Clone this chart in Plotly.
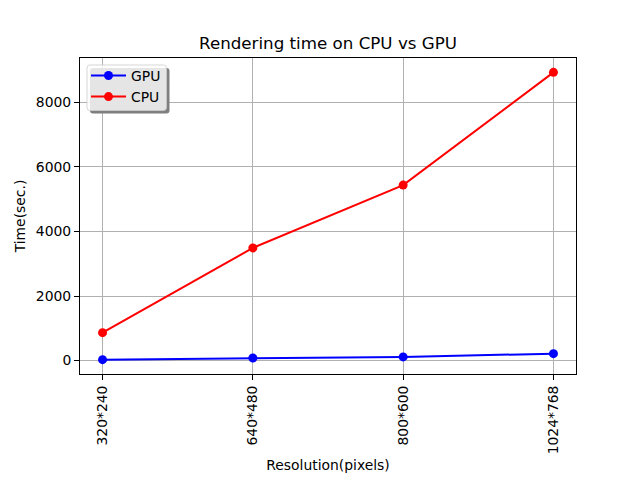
import plotly.graph_objects as go

resolutions = ["320*240", "640*480", "800*600", "1024*768"]
gpu_times = [30, 80, 115, 215]
cpu_times = [865, 3490, 5436, 8927]

L, R, T, B = 80, 64, 58, 106
W, H = 640, 480
pw, ph = W - L - R, H - T - B

def px_x(p):
    return (p - L) / pw

def px_y(p):
    return 1 - (p - T) / ph

def rounded_rect(x0, y0, x1, y1, r):
    def P(x, y):
        return f"{px_x(x):.5f},{px_y(y):.5f}"
    return (f"M {P(x0 + r, y0)} L {P(x1 - r, y0)} Q {P(x1, y0)} {P(x1, y0 + r)} "
            f"L {P(x1, y1 - r)} Q {P(x1, y1)} {P(x1 - r, y1)} "
            f"L {P(x0 + r, y1)} Q {P(x0, y1)} {P(x0, y1 - r)} "
            f"L {P(x0, y0 + r)} Q {P(x0, y0)} {P(x0 + r, y0)} Z")

fig = go.Figure()
fig.add_trace(go.Scatter(x=list(range(len(resolutions))), y=gpu_times, mode="lines+markers",
                         name="GPU", line=dict(color="#0000ff", width=2),
                         marker=dict(color="#0000ff", size=9)))
fig.add_trace(go.Scatter(x=list(range(len(resolutions))), y=cpu_times, mode="lines+markers",
                         name="CPU", line=dict(color="#ff0000", width=2),
                         marker=dict(color="#ff0000", size=9)))

font = "DejaVu Sans"
axis_common = dict(showline=True, linecolor="black", linewidth=1, mirror=True,
                   ticks="outside", ticklen=5, tickcolor="black", tickwidth=1,
                   showgrid=True, gridcolor="#b0b0b0", gridwidth=1, zeroline=False,
                   automargin=False,
                   tickfont=dict(family=font, size=13.9, color="black"))

fig.update_layout(
    width=W, height=H,
    margin=dict(l=L, r=R, t=T, b=B, autoexpand=False),
    paper_bgcolor="white", plot_bgcolor="white",
    title=dict(text="Rendering time on CPU vs GPU", x=0.5, xref="paper", xanchor="center",
               y=1 - 43 / H, yanchor="middle",
               font=dict(family=font, size=16.7, color="black")),
    xaxis=dict(axis_common, tickmode="array", tickvals=list(range(len(resolutions))),
               ticktext=resolutions, range=[-0.15, 3.15], tickangle=-90,
               title=dict(text="Resolution(pixels)", font=dict(family=font, size=13.9, color="black"), standoff=6)),
    yaxis=dict(axis_common, range=[-415, 9372], tickvals=[0, 2000, 4000, 6000, 8000],
               title=dict(text="Time(sec.)", font=dict(family=font, size=13.9, color="black"), standoff=6)),
    legend=dict(x=px_x(86), y=px_y(60), xanchor="left", yanchor="top",
                bgcolor="rgba(0,0,0,0)", borderwidth=0,
                font=dict(family=font, size=13.9, color="black"),
                tracegroupgap=0, itemwidth=35),
    showlegend=True,
)

# legend shadow and frame (matplotlib-style fancy box with shadow)
fig.add_shape(type="path", xref="paper", yref="paper",
              path=rounded_rect(90, 68, 169.5, 113.5, 3),
              fillcolor="#7f7f7f", line=dict(width=0), layer="above")
fig.add_shape(type="path", xref="paper", yref="paper",
              path=rounded_rect(87, 65, 166.5, 110.5, 3),
              fillcolor="rgba(255,255,255,0.8)", line=dict(color="rgba(204,204,204,0.8)", width=1),
              layer="above")

fig.write_html("out.html")
